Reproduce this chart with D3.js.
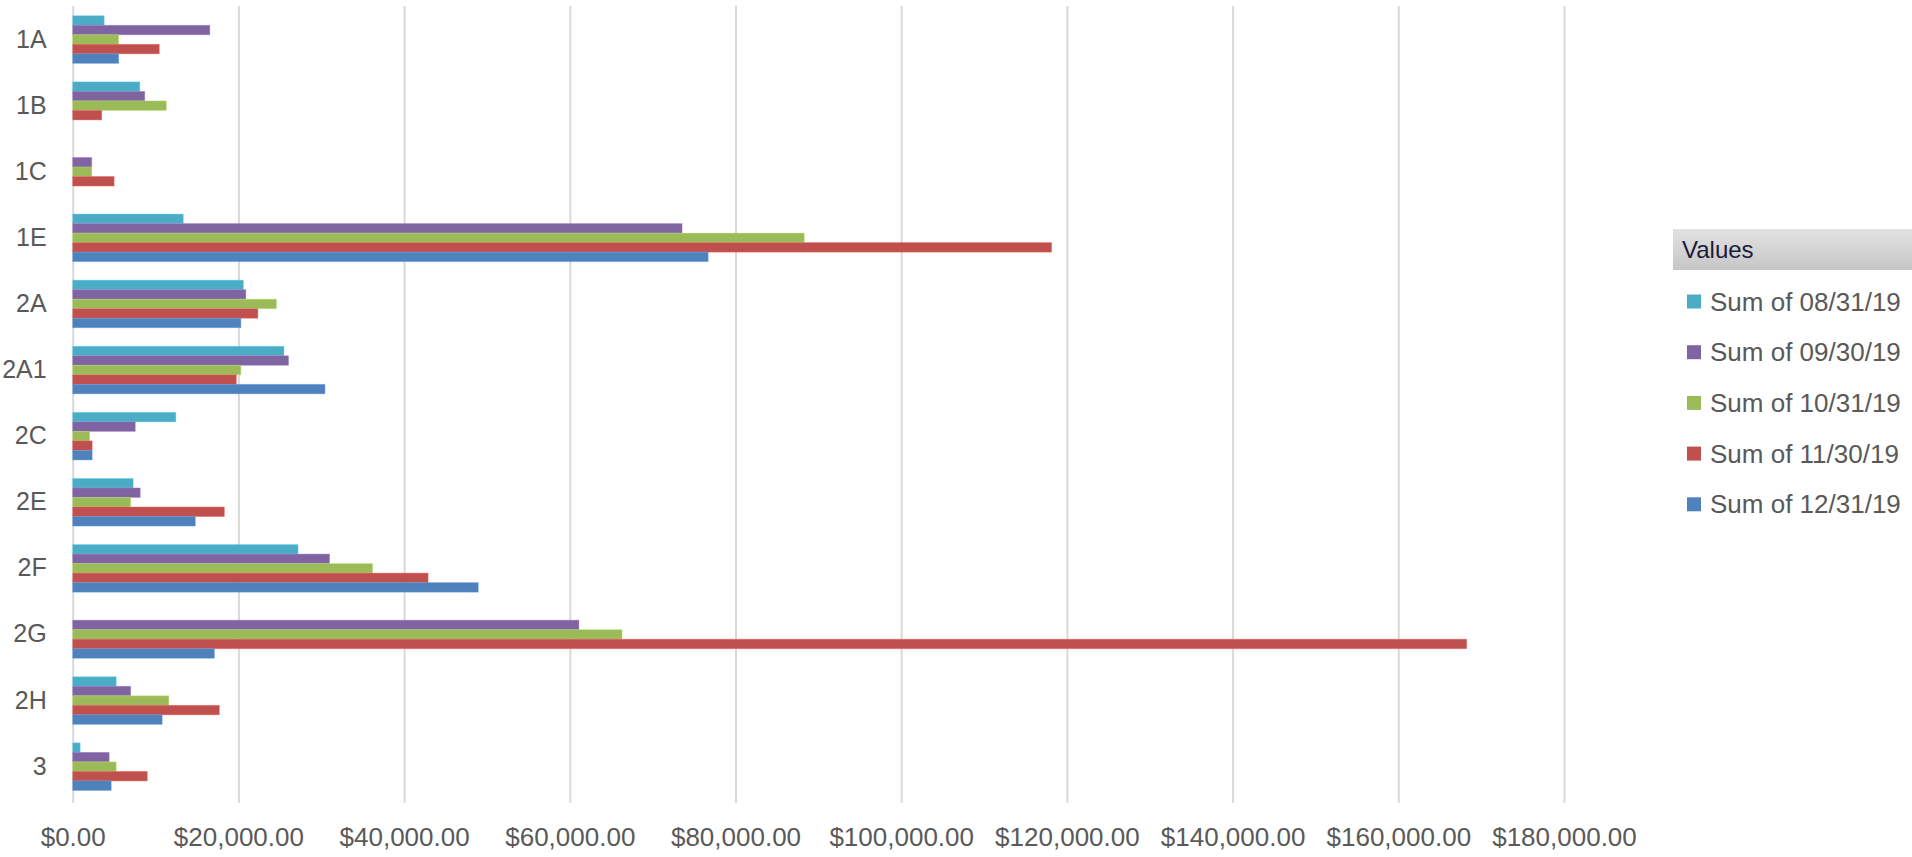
<!DOCTYPE html>
<html>
<head>
<meta charset="utf-8">
<script src="https://cdn.jsdelivr.net/npm/d3@7"></script>
<style>
  html, body { margin: 0; padding: 0; background: #fff; }
  svg { display: block; font-family: "Liberation Sans", Arial, sans-serif; }
</style>
</head>
<body>
<div class="chart"></div>
<script>
const categories = ["1A", "1B", "1C", "1E", "2A", "2A1", "2C", "2E", "2F", "2G", "2H", "3"];
const seriesNames = ["Sum of 08/31/19", "Sum of 09/30/19", "Sum of 10/31/19", "Sum of 11/30/19", "Sum of 12/31/19"];
const seriesColors = ["#4BACC6", "#8064A2", "#9BBB59", "#C0504D", "#4F81BD"];

const aug = [3800, 8100, 0, 13350, 20600, 25500, 12450, 7300, 27200, 0, 5250, 900];
const sep = [16550, 8700, 2300, 73550, 20900, 26050, 7550, 8150, 31000, 61100, 7000, 4400];
const oct = [5550, 11300, 2300, 88300, 24600, 20300, 2050, 7000, 36200, 66300, 11600, 5250];
const nov = [10450, 3500, 5000, 118150, 22350, 19750, 2350, 18300, 42900, 168250, 17700, 9000];
const dec = [5550, 0, 0, 76700, 20300, 30450, 2350, 14800, 48950, 17100, 10800, 4650];

const xTicks = [0, 20000, 40000, 60000, 80000, 100000, 120000, 140000, 160000, 180000];

const drawChart = () => {
    const w = 1912;
    const h = 857;
    const allSeries = [aug, sep, oct, nov, dec];

    const svg = d3.select(".chart")
      .append("svg")
      .attr("width", w)
      .attr("height", h);

    const x = d3.scaleLinear()
      .domain([0, 180000])
      .range([72.7, 1564]);

    const y = d3.scaleBand()
      .domain(categories)
      .range([6.5, 799.7])
      .paddingInner(0.28)
      .paddingOuter(0.14);

    const ySub = d3.scaleBand()
      .domain(d3.range(seriesNames.length))
      .range([0, y.bandwidth()]);

    // gridlines + x labels
    const xAxis = svg.append("g")
      .attr("transform", "translate(0,803)")
      .call(d3.axisBottom(x)
        .tickValues(xTicks)
        .tickSizeInner(-797)
        .tickSizeOuter(0)
        .tickPadding(25)
        .tickFormat(d => "$" + d3.format(",.2f")(d)));
    xAxis.select(".domain").remove();
    xAxis.selectAll("line").attr("stroke", "#d9d9d9").attr("stroke-width", 2);
    xAxis.selectAll("text")
      .attr("fill", "#595959")
      .style("font-size", "26px");

    // bars
    const rows = categories.map((c, i) => ({ cat: c, vals: allSeries.map(s => s[i]) }));
    const group = svg.selectAll("g.row")
      .data(rows)
      .join("g")
      .attr("class", "row")
      .attr("transform", d => `translate(0,${y(d.cat)})`);

    group.selectAll("rect")
      .data(d => d.vals.map((v, j) => ({ v, j })).filter(d => d.v > 0))
      .join("rect")
      .attr("x", x(0))
      .attr("y", d => ySub(d.j))
      .attr("width", d => x(d.v) - x(0))
      .attr("height", ySub.bandwidth())
      .attr("fill", d => seriesColors[d.j])
      .attr("stroke", d => d3.color(seriesColors[d.j]).brighter(0.6))
      .attr("stroke-opacity", 0.5)
      .attr("stroke-width", 0.8);

    // y labels
    const yAxis = svg.append("g")
      .attr("transform", `translate(${x(0)},0)`)
      .call(d3.axisLeft(y).tickSize(0).tickPadding(26));
    yAxis.select(".domain").remove();
    yAxis.selectAll("text")
      .attr("fill", "#595959")
      .style("font-size", "25px");

    // legend
    const defs = svg.append("defs");
    const grad = defs.append("linearGradient")
      .attr("id", "hdr")
      .attr("x1", 0).attr("y1", 0).attr("x2", 0).attr("y2", 1);
    grad.append("stop").attr("offset", "0%").attr("stop-color", "#e2e2e2");
    grad.append("stop").attr("offset", "100%").attr("stop-color", "#c6c6c6");

    const legend = svg.append("g").attr("id", "legend");
    legend.append("rect")
      .attr("x", 1673)
      .attr("y", 229)
      .attr("width", 239)
      .attr("height", 41)
      .attr("fill", "url(#hdr)");
    legend.append("text")
      .attr("x", 1682)
      .attr("y", 258)
      .attr("fill", "#1b1b3a")
      .style("font-size", "24px")
      .text("Values");

    const item = legend.selectAll("g.item")
      .data(seriesNames)
      .join("g")
      .attr("class", "item")
      .attr("transform", (d, i) => `translate(0,${301.5 + i * 50.7})`);
    item.append("rect")
      .attr("x", 1687)
      .attr("y", -7)
      .attr("width", 14)
      .attr("height", 14)
      .attr("fill", (d, i) => seriesColors[i]);
    item.append("text")
      .attr("x", 1710)
      .attr("y", 0)
      .attr("dy", "0.35em")
      .attr("fill", "#595959")
      .style("font-size", "26px")
      .text(d => d);
}

drawChart();
</script>
</body>
</html>
